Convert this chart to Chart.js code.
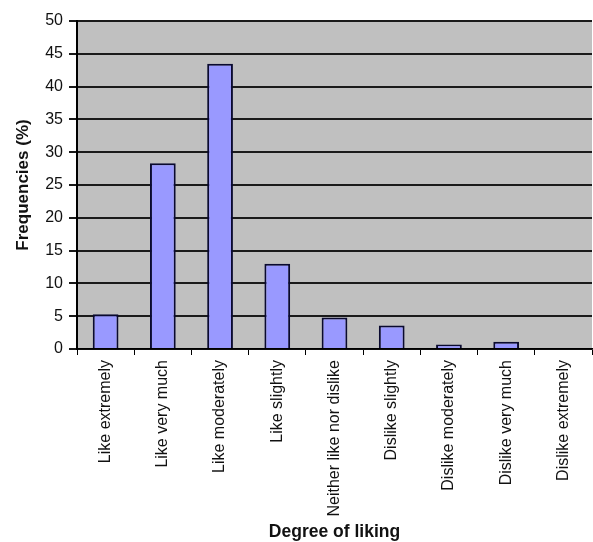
<!DOCTYPE html>
<html>
<head>
<meta charset="utf-8">
<script src="https://cdn.jsdelivr.net/npm/chart.js@4/dist/chart.umd.min.js"></script>
<style>
  html, body { margin: 0; padding: 0; background: #fff; }
  #wrap { width: 593px; height: 542px; position: relative; }
</style>
</head>
<body>
<div id="wrap"><canvas id="c"></canvas></div>
<script>
// Hedonic scale categories and response frequencies (%)
const categories = [
  'Like extremely', 'Like very much', 'Like moderately', 'Like slightly',
  'Neither like nor dislike', 'Dislike slightly', 'Dislike moderately',
  'Dislike very much', 'Dislike extremely'
];
const frequencies = [5.3, 28.3, 43.5, 13.0, 4.8, 3.6, 0.7, 1.1, 0];
const yTicks = [0, 5, 10, 15, 20, 25, 30, 35, 40, 45, 50];

// Grey plot-area background
const plotBackground = {
  id: 'plotBackground',
  beforeDraw(chart) {
    const { ctx, chartArea: a } = chart;
    ctx.save();
    ctx.fillStyle = '#c0c0c0';
    ctx.fillRect(a.left, a.top, a.right - a.left, a.bottom - a.top);
    ctx.restore();
  }
};

const font = '"Liberation Sans", Arial, sans-serif';

new Chart(document.getElementById('c'), {
  type: 'bar',
  data: {
    labels: categories,
    datasets: [{
      data: frequencies,
      backgroundColor: '#9999ff',
      borderColor: '#0a0a30',
      borderWidth: 2,
      barPercentage: 0.45,
      categoryPercentage: 1.0
    }]
  },
  options: {
    responsive: true,
    maintainAspectRatio: false,
    animation: false,
    layout: { padding: { top: 21, right: 1, left: 0, bottom: 0 } },
    plugins: { legend: { display: false }, tooltip: { enabled: false } },
    scales: {
      x: {
        grid: {
          offset: true,
          drawOnChartArea: false,
          drawTicks: true,
          tickLength: 6,
          color: '#000',
          lineWidth: 1
        },
        border: { color: '#000', width: 1.5 },
        ticks: {
          autoSkip: false,
          maxRotation: 90,
          minRotation: 90,
          padding: 5,
          color: '#111',
          font: { family: font, size: 16 }
        },
        title: {
          display: true,
          text: 'Degree of liking',
          color: '#111',
          font: { family: font, size: 17.5, weight: 'bold', lineHeight: 1 },
          padding: { top: 0, bottom: 1 }
        },
        afterFit(scale) { scale.height = 193; }
      },
      y: {
        min: 0,
        max: 50,
        afterBuildTicks(scale) { scale.ticks = yTicks.map(v => ({ value: v })); },
        grid: {
          color: '#1a1a1a',
          lineWidth: 2,
          tickLength: 8
        },
        border: { color: '#000', width: 2 },
        ticks: {
          padding: 6,
          color: '#111',
          font: { family: font, size: 16 }
        },
        title: {
          display: true,
          text: 'Frequencies (%)',
          color: '#111',
          font: { family: font, size: 17, weight: 'bold' },
          padding: { top: 13, bottom: 0 }
        },
        afterFit(scale) { scale.width = 77; }
      }
    }
  },
  plugins: [plotBackground]
});
</script>
</body>
</html>
